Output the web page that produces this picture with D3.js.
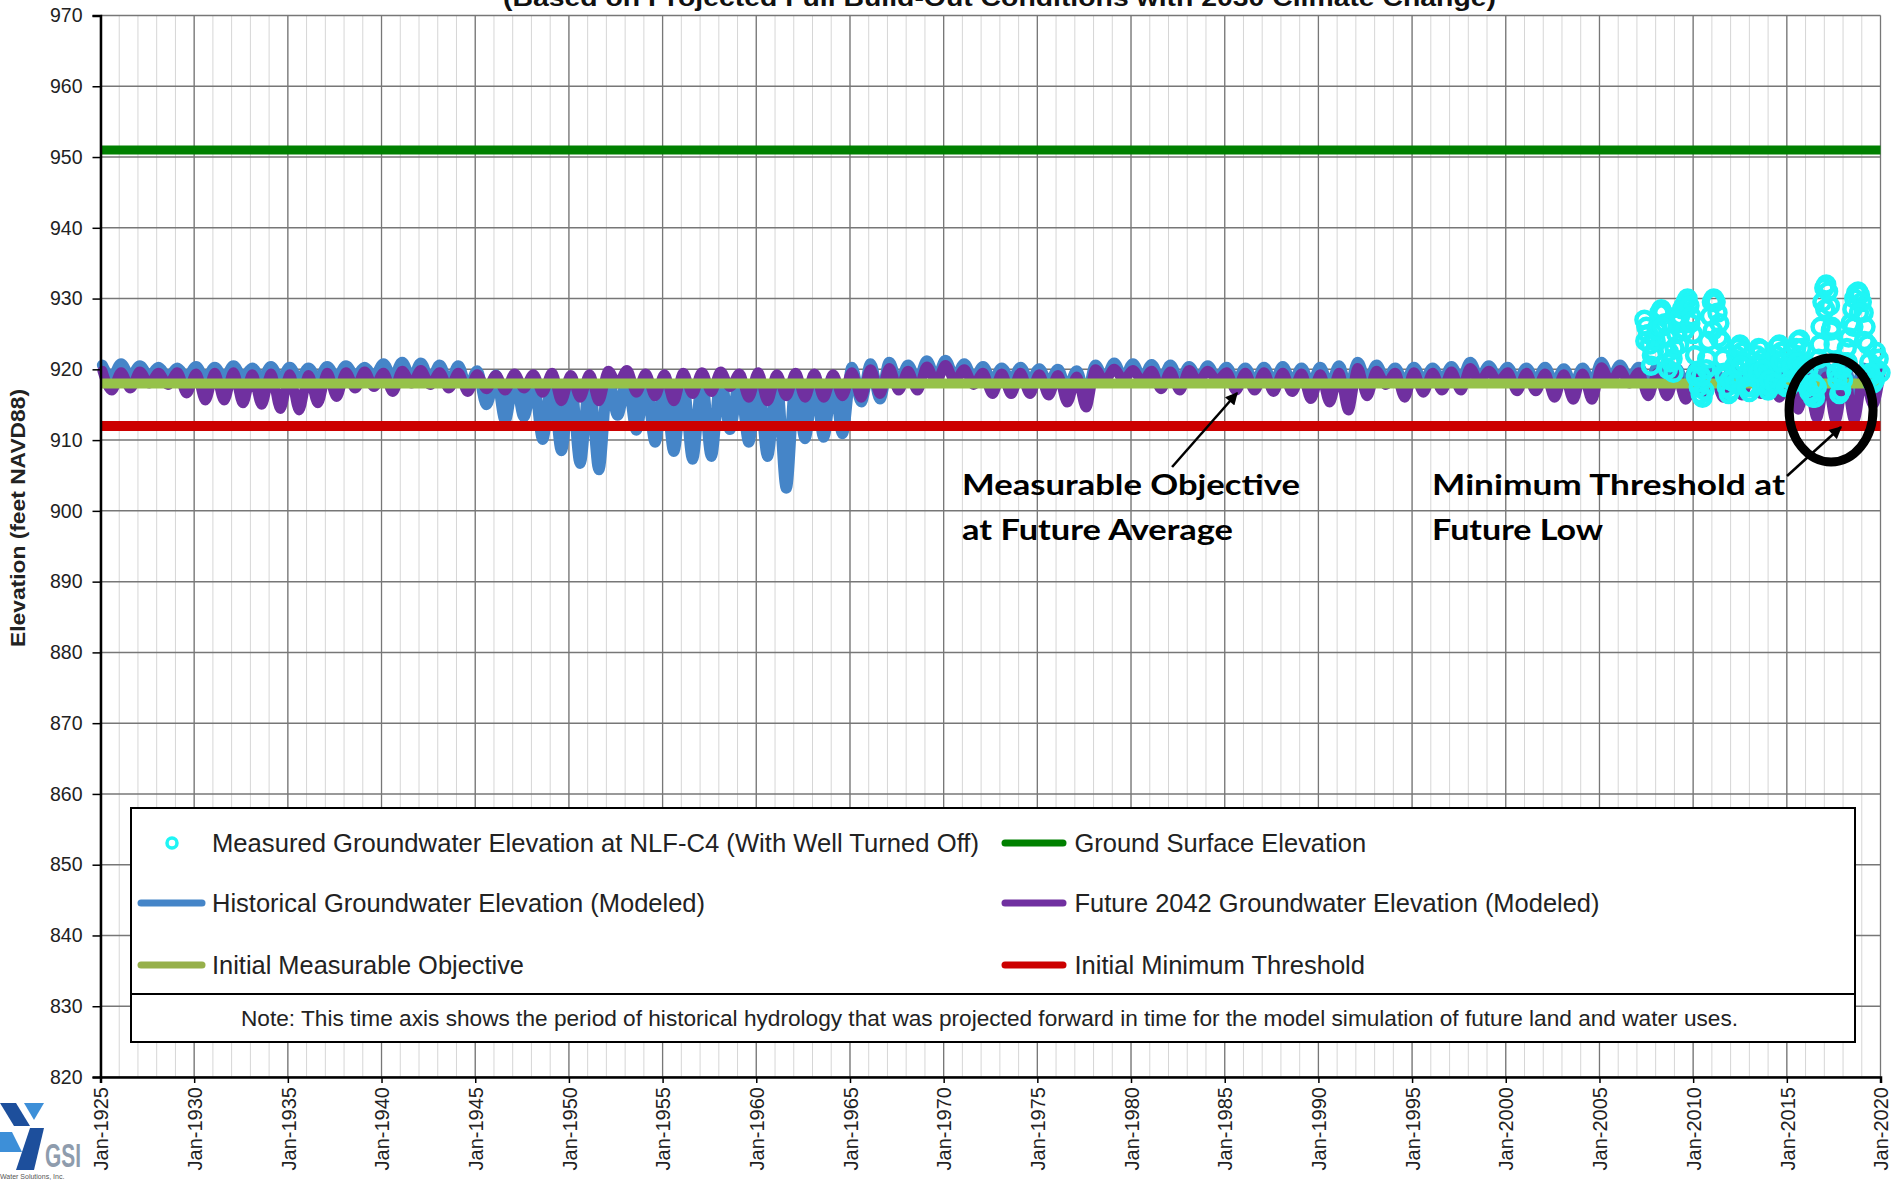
<!DOCTYPE html>
<html><head><meta charset="utf-8">
<script src="https://cdn.jsdelivr.net/npm/d3@7"></script>
<style>body{margin:0;background:#fff;} svg{display:block;}</style>
</head><body>
<svg id="chart" width="1893" height="1182"></svg>
<script>
// ---------------- DATA ----------------
const years = d3.range(1925, 2020); // 1925..2019, seasonal high (spring) and low (fall)
const historicalHigh = [
 920.6,920.8,920.5,920.3,920.2,920.4,920.3,920.5,920.2,920.4,
 920.3,920.2,920.4,920.5,920.3,920.8,921.0,920.9,920.6,920.5,
 919.8,919.2,918.9,918.8,918.6,918.5,918.4,919.0,918.7,918.5,
 918.6,918.4,918.5,919.0,918.7,918.6,918.3,918.8,918.9,919.1,
 920.3,920.8,921.0,920.6,921.2,921.3,920.8,920.4,920.2,920.3,
 920.1,920.0,919.8,920.6,920.9,920.8,920.7,920.6,920.4,920.5,
 920.3,920.2,920.3,920.4,920.2,920.3,920.5,921.0,920.6,920.2,
 920.3,920.2,920.4,921.0,920.5,920.3,920.2,920.3,920.1,920.2,
 921.0,920.6,920.3,920.4,920.2,920.3,920.1,920.2,920.0,920.1,
 920.0,919.9,920.3,920.1,920.2,
 920.0];
const historicalLow = [
 918.8,918.9,919.0,918.9,918.8,918.6,918.7,918.8,918.6,918.5,
 918.5,918.6,918.8,919.0,918.9,918.7,918.6,918.3,918.0,917.2,
 915.0,912.8,913.3,910.1,908.5,906.7,905.8,913.5,911.4,909.7,
 908.4,907.3,907.7,911.5,909.7,907.7,903.2,910.2,910.4,910.9,
 915.4,915.8,917.8,918.2,918.6,918.7,918.5,918.2,918.3,918.2,
 918.0,917.2,916.0,918.5,918.7,918.6,918.3,918.2,918.5,918.6,
 918.2,918.1,918.0,918.0,917.8,917.5,917.0,918.0,918.4,918.0,
 918.2,918.3,918.3,918.7,918.6,918.2,918.2,917.9,917.6,917.7,
 918.6,918.5,918.0,918.0,917.8,918.0,917.8,918.0,918.1,917.8,
 917.3,917.0,916.8,916.9,917.4];
const futureHigh = [
 919.8,919.6,919.7,919.5,919.6,919.4,919.5,919.6,919.3,919.4,
 919.3,919.2,919.5,919.6,919.7,919.5,919.8,919.9,919.6,919.5,
 919.3,919.2,919.4,919.3,919.5,919.2,919.3,919.8,919.9,919.4,
 919.3,919.5,919.6,919.7,919.4,919.6,919.3,919.5,919.4,919.3,
 919.6,920.0,920.2,919.8,920.4,920.6,920.0,919.5,919.4,919.5,
 919.3,919.2,919.0,920.0,920.1,919.9,919.8,919.7,919.9,919.8,
 919.6,919.5,919.6,919.5,919.4,919.3,919.5,920.2,919.8,919.5,
 919.6,919.5,919.7,920.2,919.8,919.6,919.5,919.4,919.3,919.4,
 920.3,919.9,919.6,919.5,919.3,919.4,919.2,919.3,919.2,919.3,
 919.1,918.8,919.0,918.9,919.2,
 919.4];
const futureLow = [
 917.0,917.3,918.0,917.8,916.6,915.6,915.6,915.2,915.0,914.4,
 914.2,915.2,916.1,917.3,917.5,916.8,918.0,917.8,917.3,916.8,
 917.2,917.0,917.3,916.7,915.5,916.0,915.5,918.0,916.7,916.2,
 915.5,916.5,916.8,917.5,916.0,915.5,916.2,916.0,916.0,916.2,
 916.0,916.5,917.0,917.0,918.2,918.3,917.8,916.5,916.5,916.5,
 916.3,915.3,914.6,918.3,918.5,918.3,917.2,917.0,918.2,918.4,
 917.0,917.0,916.8,916.8,915.8,915.3,914.2,916.2,917.8,916.0,
 916.7,917.0,917.0,918.2,918.2,916.9,916.9,916.0,915.7,915.7,
 918.2,918.0,916.2,916.2,915.7,916.5,916.0,916.3,916.5,916.0,
 914.3,913.1,912.8,912.8,915.0];
const measuredYears = [
 2007.4,2007.5,2007.6,2007.7,2007.8,2007.9,2008.0,2008.1,2008.2,2008.3,2008.4,2008.5,2008.6,2008.7,2008.8,2008.9,
 2009.0,2009.1,2009.2,2009.3,2009.4,2009.5,2009.6,2009.7,2009.8,2009.9,
 2010.0,2010.1,2010.2,2010.3,2010.4,2010.5,2010.6,2010.7,2010.8,2010.9,
 2011.0,2011.1,2011.2,2011.3,2011.4,2011.5,2011.6,2011.7,2011.8,2011.9,
 2012.0,2012.1,2012.2,2012.3,2012.4,2012.5,2012.6,2012.7,2012.8,2012.9,
 2013.0,2013.1,2013.2,2013.3,2013.4,2013.5,2013.6,2013.7,2013.8,2013.9,
 2014.0,2014.1,2014.2,2014.3,2014.4,2014.5,2014.6,2014.7,2014.8,2014.9,
 2015.0,2015.1,2015.2,2015.3,2015.4,2015.5,2015.6,2015.7,2015.8,2015.9,
 2016.0,2016.1,2016.2,2016.3,2016.4,2016.5,2016.6,2016.7,2016.8,2016.9,
 2017.0,2017.1,2017.2,2017.3,2017.4,2017.5,2017.6,2017.7,2017.8,2017.9,
 2018.0,2018.1,2018.2,2018.3,2018.4,2018.5,2018.6,2018.7,2018.8,2018.9,
 2019.0,2019.1,2019.2,2019.3,2019.4,2019.5,2019.6,2019.7,2019.8,2019.9,2020.0,
 2007.45,2007.75,2008.05,2008.35,2008.65,2008.95,2009.25,2009.55,2009.85,2010.15,
 2010.45,2010.75,2011.05,2011.35,2011.65,2011.95,2012.25,2012.55,2012.85,2013.15,
 2013.45,2013.75,2014.05,2014.35,2014.65,2014.95,2015.25,2015.55,2015.85,2016.15,
 2016.45,2016.75,2017.05,2017.35,2017.65,2017.95,2018.25,2018.55,2018.85,2019.15,
 2019.45,2019.75];
const measuredValues = [
 927.0,926.0,925.0,923.5,922.0,922.5,924.0,926.0,928.0,928.5,928.0,926.5,924.5,922.5,921.0,921.5,
 923.0,925.0,926.5,927.5,928.5,929.0,929.5,930.0,929.0,927.5,
 925.0,922.0,919.5,917.5,916.5,916.0,917.0,920.0,924.0,927.5,
 929.5,930.0,929.5,928.0,926.5,924.0,921.5,919.0,917.5,916.5,
 917.0,918.5,920.5,922.0,923.0,923.5,922.5,921.0,919.0,917.5,
 916.8,917.5,919.0,920.5,922.0,923.0,922.8,921.5,919.5,918.0,
 917.0,917.5,919.0,920.5,922.0,923.2,923.5,922.5,921.0,919.5,
 918.0,917.5,918.5,920.0,921.5,923.0,924.0,924.2,923.0,921.0,
 919.0,917.5,916.8,916.5,916.0,916.0,917.5,921.5,926.0,929.5,
 931.5,932.0,931.0,929.0,926.0,923.5,921.0,918.5,916.5,917.0,
 918.5,921.0,923.0,924.5,926.5,928.5,930.0,930.8,931.0,930.5,
 929.5,928.0,926.0,923.5,921.0,919.0,918.0,918.5,920.0,921.5,919.5,
 924.0,920.5,925.5,926.0,920.0,919.5,923.5,925.5,926.5,919.0,
 919.0,921.5,925.5,924.5,919.5,918.5,918.0,920.5,917.5,920.0,
 919.5,920.0,918.5,918.0,921.0,917.5,920.5,921.0,920.5,920.0,
 918.0,923.5,928.5,925.5,919.5,920.0,921.0,926.0,928.0,924.0,
 919.5,922.5];
const groundSurfaceElevation = 951;
const initialMeasurableObjective = 918;
const initialMinimumThreshold = 912;
const yTickValues = d3.range(820, 971, 10);
const xTickYears = d3.range(1925, 2021, 5);
const legendLabels = [
 "Measured Groundwater Elevation at NLF-C4 (With Well Turned Off)",
 "Historical Groundwater Elevation (Modeled)",
 "Initial Measurable Objective",
 "Ground Surface Elevation",
 "Future 2042 Groundwater Elevation (Modeled)",
 "Initial Minimum Threshold"];
const noteText = "Note: This time axis shows the period of historical hydrology that was projected forward in time for the model simulation of future land and water uses.";
const titleText = "(Based on Projected Full Build-Out Conditions with 2030 Climate Change)";
const yAxisTitle = "Elevation (feet NAVD88)";
const annotationObjective = ["Measurable Objective", "at Future Average"];
const annotationThreshold = ["Minimum Threshold at", "Future Low"];

// ---------------- CHART ----------------
const svg = d3.select('#chart');
const toDate = v => { const yr = Math.floor(v); const s = new Date(yr,0,1), e = new Date(yr+1,0,1); return new Date(+s + (v-yr)*(e-s)); };
const x = d3.scaleTime().domain([new Date(1925,0,1), new Date(2020,0,1)]).range([100.5, 1880.5]);
const y = d3.scaleLinear().domain([820, 970]).range([1077, 15.5]);
const FONT = "'Liberation Sans', Arial, sans-serif";

// grid
const gGrid = svg.append('g');
gGrid.selectAll('line.minor').data(d3.timeYear.range(new Date(1925,0,1), new Date(2020,0,2)))
  .join('line').attr('class','minor')
  .attr('x1', d=>x(d)).attr('x2', d=>x(d)).attr('y1', y(970)).attr('y2', y(820))
  .attr('stroke', '#d6d6d6').attr('stroke-width', 1);
gGrid.selectAll('line.majorx').data(xTickYears.map(v=>new Date(v,0,1)))
  .join('line').attr('class','majorx')
  .attr('x1', d=>x(d)).attr('x2', d=>x(d)).attr('y1', y(970)).attr('y2', y(820))
  .attr('stroke', '#777').attr('stroke-width', 1.3);
gGrid.selectAll('line.majory').data(yTickValues)
  .join('line').attr('class','majory')
  .attr('x1', x.range()[0]).attr('x2', x.range()[1]).attr('y1', d=>y(d)).attr('y2', d=>y(d))
  .attr('stroke', '#777').attr('stroke-width', 1.5);

// series
function seasonal(high, low){
  const pts = [];
  years.forEach((yr,i)=>{ pts.push({t: yr+0.1, v: high[i]}); pts.push({t: yr+0.6, v: low[i]}); });
  pts.push({t: 2020, v: high[years.length]});
  return pts;
}
const line = d3.line().x(d=>x(toDate(d.t))).y(d=>y(d.v)).curve(d3.curveMonotoneX);
svg.append('path').datum(seasonal(historicalHigh, historicalLow)).attr('d', line)
  .attr('fill','none').attr('stroke','#4585c8').attr('stroke-width',11).attr('stroke-linejoin','round').attr('stroke-linecap','round');
svg.append('path').datum(seasonal(futureHigh, futureLow)).attr('d', line)
  .attr('fill','none').attr('stroke','#7030a0').attr('stroke-width',10).attr('stroke-linejoin','round').attr('stroke-linecap','round');

const refLines = [
  {v: initialMeasurableObjective, c: '#96c24a', w: 10},
  {v: initialMinimumThreshold, c: '#cc0000', w: 10},
  {v: groundSurfaceElevation, c: '#008000', w: 9}];
svg.append('g').selectAll('line').data(refLines).join('line')
  .attr('x1', x(new Date(1925,0,1))).attr('x2', x(new Date(2020,0,1)))
  .attr('y1', d=>y(d.v)).attr('y2', d=>y(d.v))
  .attr('stroke', d=>d.c).attr('stroke-width', d=>d.w);

svg.append('g').selectAll('circle').data(measuredYears.map((t,i)=>({t, v: measuredValues[i]})))
  .join('circle').attr('cx', d=>x(toDate(d.t))).attr('cy', d=>y(d.v)).attr('r', 8)
  .attr('fill','none').attr('stroke','#1ff5f5').attr('stroke-width',4.5);

// axes
const yAxis = d3.axisLeft(y).tickValues(yTickValues).tickSize(8).tickPadding(10).tickFormat(d3.format('d'));
const gy = svg.append('g').attr('transform', `translate(${x.range()[0]},0)`).call(yAxis);
gy.select('.domain').attr('stroke','#000').attr('stroke-width',2.5);
gy.selectAll('.tick line').attr('stroke','#000').attr('stroke-width',1.5);
gy.selectAll('.tick text').attr('font-family', FONT).attr('font-size', 19.5).attr('fill','#222');

const xAxis = d3.axisBottom(x).tickValues(xTickYears.map(v=>new Date(v,0,1))).tickSize(6).tickFormat(d3.timeFormat('%b-%Y'));
const gx = svg.append('g').attr('transform', `translate(0,${y(820)})`).call(xAxis);
gx.select('.domain').attr('stroke','#000').attr('stroke-width',2.5);
gx.selectAll('.tick line').attr('stroke','#000').attr('stroke-width',1.5);
gx.selectAll('.tick text').attr('font-family', FONT).attr('font-size', 20).attr('fill','#222')
  .attr('transform','rotate(-90)').attr('x',-10).attr('y',0).attr('dy','0.36em').attr('text-anchor','end');

// y axis title
svg.append('text').attr('transform','translate(25,518) rotate(-90)').attr('text-anchor','middle')
  .attr('font-family', FONT).attr('font-weight','bold').attr('font-size',21).attr('fill','#222')
  .attr('textLength',258).attr('lengthAdjust','spacingAndGlyphs').text(yAxisTitle);

// title (cut at top, as in the reference)
svg.append('text').attr('x',999.5).attr('y',6).attr('text-anchor','middle')
  .attr('font-family', FONT).attr('font-weight','bold').attr('font-size',24).attr('fill','#111')
  .attr('textLength',993).attr('lengthAdjust','spacingAndGlyphs').text(titleText);

// legend
const lg = svg.append('g');
lg.append('rect').attr('x',131).attr('y',808).attr('width',1724).attr('height',234)
  .attr('fill','#fff').attr('stroke','#000').attr('stroke-width',2);
lg.append('line').attr('x1',131).attr('x2',1855).attr('y1',994).attr('y2',994).attr('stroke','#000').attr('stroke-width',2);
const rowsY = [843, 903, 965];
const legendSpec = [
  {type:'circle', color:'#1ff5f5', col:0, row:0, w:767},
  {type:'line', color:'#4585c8', col:0, row:1, w:493},
  {type:'line', color:'#96b04a', col:0, row:2, w:312},
  {type:'line', color:'#008000', col:1, row:0, w:291.6},
  {type:'line', color:'#7030a0', col:1, row:1, w:525},
  {type:'line', color:'#cc0000', col:1, row:2, w:290.5}];
const colX = [{sw0:141, sw1:202, tx:212}, {sw0:1005, sw1:1063, tx:1074.5}];
legendSpec.forEach((s,i)=>{
  const cy = rowsY[s.row], c = colX[s.col];
  if (s.type==='circle') {
    lg.append('circle').attr('cx',172).attr('cy',cy).attr('r',5).attr('fill','none').attr('stroke',s.color).attr('stroke-width',3.5);
  } else {
    lg.append('line').attr('x1',c.sw0).attr('x2',c.sw1).attr('y1',cy).attr('y2',cy)
      .attr('stroke',s.color).attr('stroke-width',7).attr('stroke-linecap','round');
  }
  lg.append('text').attr('x',c.tx).attr('y',cy).attr('dy','0.36em')
    .attr('font-family', FONT).attr('font-size',25.5).attr('fill','#222')
    .attr('textLength',s.w).attr('lengthAdjust','spacingAndGlyphs').text(legendLabels[i]);
});
lg.append('text').attr('x',241).attr('y',1018).attr('dy','0.36em')
  .attr('font-family', FONT).attr('font-size',21.5).attr('fill','#222')
  .attr('textLength',1497).attr('lengthAdjust','spacingAndGlyphs').text(noteText);

// annotations
const defs = svg.append('defs');
defs.append('marker').attr('id','arrow').attr('viewBox','0 0 10 10').attr('refX',9).attr('refY',5)
  .attr('markerWidth',6).attr('markerHeight',5).attr('markerUnits','strokeWidth').attr('orient','auto')
  .append('path').attr('d','M0,0 L10,5 L0,10 z').attr('fill','#000');
const arrows = [
  {from:[1982.19, 906.2], to:[1985.66, 916.66]},
  {from:[2015.01, 904.93], to:[2017.89, 911.85]}];
svg.append('g').selectAll('line').data(arrows).join('line')
  .attr('x1', d=>x(toDate(d.from[0]))).attr('y1', d=>y(d.from[1]))
  .attr('x2', d=>x(toDate(d.to[0]))).attr('y2', d=>y(d.to[1]))
  .attr('stroke','#000').attr('stroke-width',2.5).attr('marker-end','url(#arrow)');
svg.append('ellipse').attr('cx', x(toDate(2017.36))).attr('cy', y(914.26)).attr('rx',42).attr('ry',52)
  .attr('fill','none').attr('stroke','#000').attr('stroke-width',9);
const annFont = "Lato, 'Open Sans', sans-serif";
const annSpec = [
  {lines: annotationObjective, t: 1970.98, v: [902.25, 895.9], w: [338, 271]},
  {lines: annotationThreshold, t: 1996.07, v: [902.25, 895.9], w: [353, 171]}];
annSpec.forEach(a=>{
  a.lines.forEach((txt,j)=>{
    svg.append('text').attr('x', x(toDate(a.t))).attr('y', y(a.v[j]))
      .attr('font-family', annFont).attr('font-weight','bold').attr('font-size',29).attr('fill','#000')
      .attr('textLength', a.w[j]).attr('lengthAdjust','spacingAndGlyphs').text(txt);
  });
});

// GSI logo
const logo = svg.append('g');
logo.append('polygon').attr('points','0,1103 16,1103 30,1126 14,1126').attr('fill','#1d4f9c');
logo.append('polygon').attr('points','24,1103 44,1103 34,1120').attr('fill','#3d8fd8');
logo.append('polygon').attr('points','0,1132 12,1132 22,1152 0,1152').attr('fill','#3d8fd8');
logo.append('polygon').attr('points','30,1128 44,1128 34,1170 16,1170').attr('fill','#1d4f9c');
logo.append('text').attr('x',45).attr('y',1167).attr('font-family',FONT).attr('font-weight','bold')
  .attr('font-size',34).attr('fill','#8e9cad').attr('textLength',36).attr('lengthAdjust','spacingAndGlyphs').text('GSI');
logo.append('text').attr('x',0).attr('y',1179).attr('font-family',FONT).attr('font-size',7).attr('fill','#555').text('Water Solutions, Inc.');
</script>
</body></html>
